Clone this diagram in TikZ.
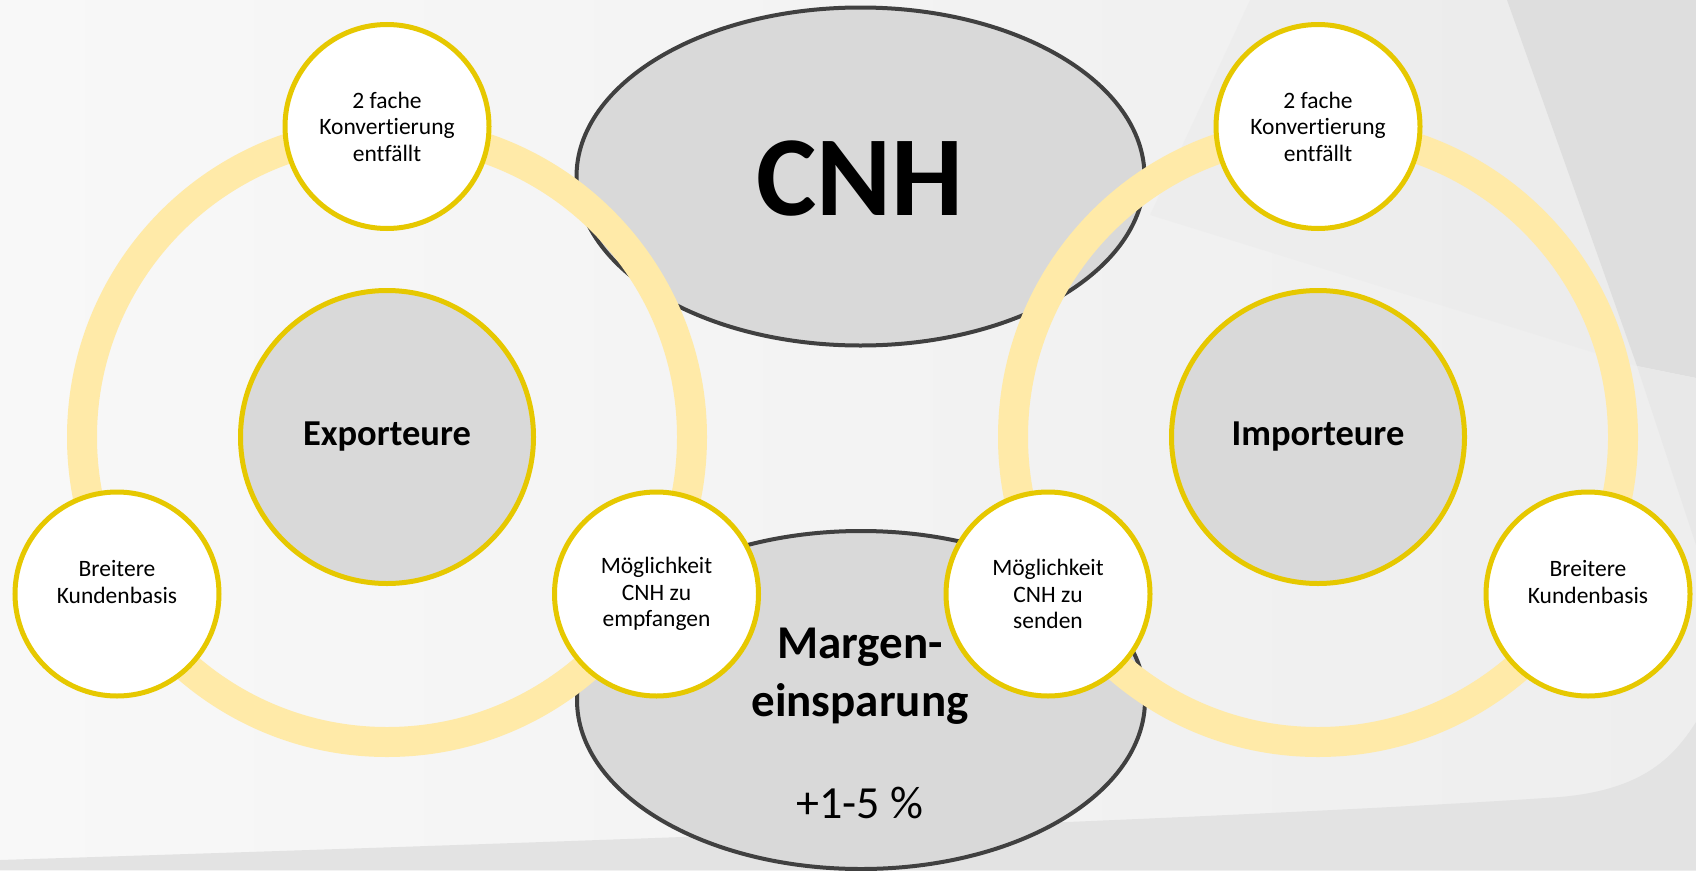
\documentclass[tikz,border=0pt]{standalone}
\usepackage{fontspec}
\setmainfont{Carlito}[Ligatures=NoCommon]
\usetikzlibrary{shapes.geometric}
\definecolor{ringcol}{HTML}{FFEAA8}
\definecolor{goldcol}{HTML}{E6C800}
\definecolor{greyfill}{HTML}{D9D9D9}
\definecolor{darkline}{HTML}{404040}
\definecolor{bgleft}{HTML}{F8F8F8}
\definecolor{bgright}{HTML}{EEEEEE}
\tikzset{
  topell/.style={ellipse, draw=darkline, line width=4pt, fill=greyfill, minimum width=568pt, minimum height=338pt, inner sep=0pt},
  ringline/.style={draw=ringcol, line width=30pt},
  hubcircle/.style={circle, draw=goldcol, line width=5pt, fill=greyfill, minimum size=293pt, inner sep=0pt, font=\fontsize{36.5}{42}\selectfont\bfseries},
  smallcircle/.style={circle, draw=goldcol, line width=5pt, fill=white, minimum size=204pt, inner sep=0pt, align=center, font=\fontsize{23.5}{26.5}\selectfont},
}
\begin{document}
\begin{tikzpicture}[x=1pt,y=-1pt]
\useasboundingbox (0,0) rectangle (1696,870);
% background
\shade[left color=bgleft, right color=bgright] (0,0) rectangle (1696,870);
\fill[fill=black!8, opacity=0.6] (1250,0) -- (1507,0) -- (1637,366) -- (1150,215) -- cycle;
\fill[fill=black!13] (1507,0) -- (1696,0) -- (1696,378) -- (1637,366) -- cycle;
\fill[fill=black!9] (1637,366) -- (1696,378) -- (1696,545) -- cycle;
\fill[fill=black!11] (0,860) .. controls (700,838) and (1300,815) .. (1560,797) .. controls (1640,790) and (1672,760) .. (1696,722) -- (1696,870) -- (0,870) -- cycle;
% central ellipses
\node[topell] (cnh) at (860.5,176.5) {};
\node[font=\fontsize{114}{120}\selectfont\bfseries] (cnhtext) at (860,179) {CNH};
\node[topell] (marge) at (861,700) {};
\node[anchor=base, font=\fontsize{47}{50}\selectfont\bfseries] (margetext1) at (860,658) {Margen-};
\node[anchor=base, font=\fontsize{47}{50}\selectfont\bfseries] (margetext2) at (860,716) {einsparung};
\node[anchor=base, font=\fontsize{46}{50}\selectfont] (prozent) at (860,818) {+1-5 \%};
% rings
\coordinate (lc) at (387,437);
\coordinate (rc) at (1318,437);
\draw[ringline] (lc) circle[radius=305pt];
\draw[ringline] (rc) circle[radius=305pt];
% hubs
\node[hubcircle] (export) at (lc) {Exporteure};
\node[hubcircle] (import) at (rc) {Importeure};
% small circles left
\node[smallcircle] (ltop) at (387,126.5) {2 fache\\Konvertierung\\entfällt};
\node[smallcircle] (lleft) at (117,594) {Breitere\\Kundenbasis\\[-2pt]\mbox{}};
\node[smallcircle] (lright) at (656.5,594) {Möglichkeit\\CNH zu\\empfangen};
% small circles right
\node[smallcircle] (rtop) at (1318,126.5) {2 fache\\Konvertierung\\entfällt};
\node[smallcircle] (rleft) at (1048,594) {Möglichkeit\\CNH zu\\senden};
\node[smallcircle] (rright) at (1588,594) {Breitere\\Kundenbasis\\[-2pt]\mbox{}};
\end{tikzpicture}
\end{document}
